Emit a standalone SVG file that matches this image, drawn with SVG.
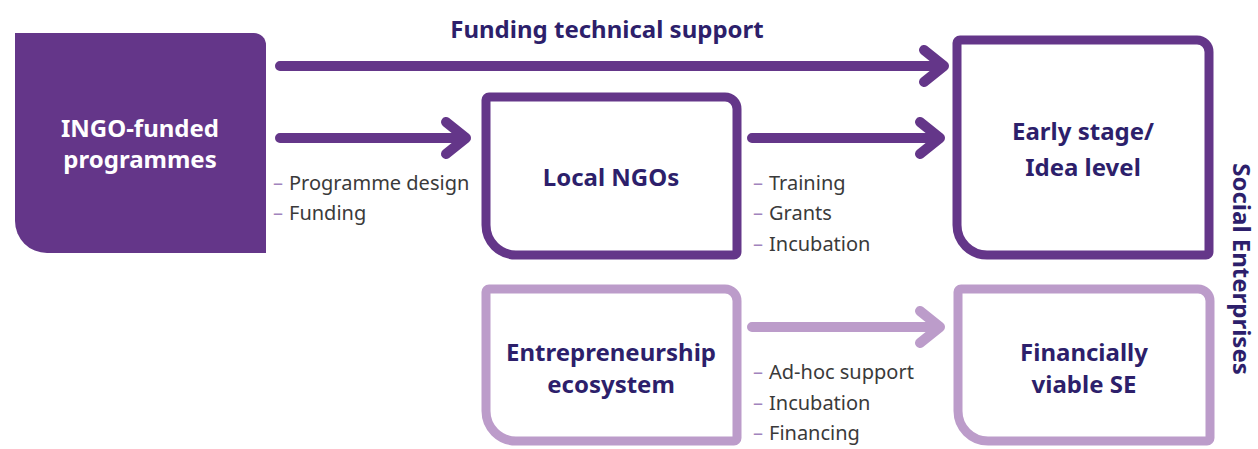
<svg xmlns="http://www.w3.org/2000/svg" width="1258" height="449" viewBox="0 0 1258 449">
<style>
.dark{fill:none;stroke:#643689;stroke-width:9;stroke-linejoin:round}
.light{fill:none;stroke:#bc9cca;stroke-width:9;stroke-linejoin:round}
.ad{fill:none;stroke:#643689;stroke-width:10;stroke-linecap:round;stroke-linejoin:round}
.al{fill:none;stroke:#bc9cca;stroke-width:10;stroke-linecap:round;stroke-linejoin:round}
.t{font-family:"Noto Sans","Open Sans",sans-serif;font-weight:bold;font-size:24px;fill:#2d1f6b;text-anchor:middle}
.w{fill:#ffffff}
.b{font-family:"Noto Sans","Open Sans",sans-serif;font-size:20px;fill:#3a3a3a}
.d{fill:#a283bd}
</style>
<g id="connectors">
<path class="ad" d="M280 66H944M924 50L944 66L924 82"/>
<path class="ad" d="M280 138H466M446 122L466 138L446 154"/>
<path class="ad" d="M752 138H940M920 122L940 138L920 154"/>
<path class="al" d="M752 327H940M920 311L940 327L920 343"/>
<text class="t" x="607" y="38">Funding technical support</text>
<text class="b" x="273" y="190"><tspan class="d">–</tspan><tspan x="289">Programme design</tspan></text>
<text class="b" x="273" y="220"><tspan class="d">–</tspan><tspan x="289">Funding</tspan></text>
<text class="b" x="753" y="190"><tspan class="d">–</tspan><tspan x="769">Training</tspan></text>
<text class="b" x="753" y="220"><tspan class="d">–</tspan><tspan x="769">Grants</tspan></text>
<text class="b" x="753" y="251"><tspan class="d">–</tspan><tspan x="769">Incubation</tspan></text>
<text class="b" x="753" y="379"><tspan class="d">–</tspan><tspan x="769">Ad-hoc support</tspan></text>
<text class="b" x="753" y="410"><tspan class="d">–</tspan><tspan x="769">Incubation</tspan></text>
<text class="b" x="753" y="440"><tspan class="d">–</tspan><tspan x="769">Financing</tspan></text>
</g>
<g id="ingo">
<path fill="#643689" d="M15 33H254A12 12 0 0 1 266 45V253H47A32 32 0 0 1 15 221Z"/>
<text class="t w" x="140" y="137">INGO-funded</text>
<text class="t w" x="140" y="168">programmes</text>
</g>
<g id="local-ngos">
<path class="dark" d="M489 97H725A12 12 0 0 1 737 109V252A3 3 0 0 1 734 255H516A30 30 0 0 1 486 225V100A3 3 0 0 1 489 97Z"/>
<text class="t" x="611" y="186">Local NGOs</text>
</g>
<g id="early-stage">
<path class="dark" d="M960 40H1197A12 12 0 0 1 1209 52V252A3 3 0 0 1 1206 255H987A30 30 0 0 1 957 225V43A3 3 0 0 1 960 40Z"/>
<text class="t" x="1083" y="140">Early stage/</text>
<text class="t" x="1083" y="176">Idea level</text>
</g>
<g id="ecosystem">
<path class="light" d="M489 289H725A12 12 0 0 1 737 301V438A3 3 0 0 1 734 441H516A30 30 0 0 1 486 411V292A3 3 0 0 1 489 289Z"/>
<text class="t" x="611" y="361">Entrepreneurship</text>
<text class="t" x="611" y="393">ecosystem</text>
</g>
<g id="viable-se">
<path class="light" d="M961 289H1198A12 12 0 0 1 1210 301V438A3 3 0 0 1 1207 441H988A30 30 0 0 1 958 411V292A3 3 0 0 1 961 289Z"/>
<text class="t" x="1084" y="361">Financially</text>
<text class="t" x="1084" y="393">viable SE</text>
</g>
<g id="social-enterprises">
<text class="t" transform="translate(1233 269) rotate(90)">Social Enterprises</text>
</g>
</svg>
